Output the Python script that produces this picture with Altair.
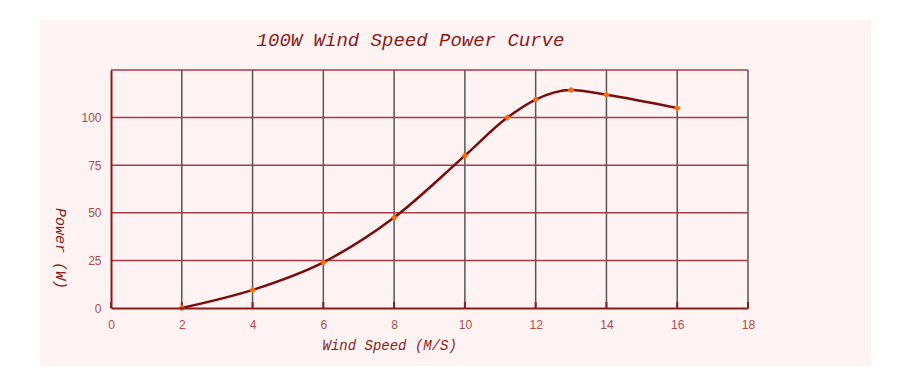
import altair as alt
import pandas as pd

# Data
wind_speed = [2, 4, 6, 8, 10, 11.2, 12, 13, 14, 16]
power = [0, 9.5, 24, 47.5, 80, 100, 109.5, 114.5, 112, 105]

x_grid_values = [2, 4, 6, 8, 10, 12, 14, 16, 18]
x_tick_values = [0, 2, 4, 6, 8, 10, 12, 14, 16, 18]
y_grid_values = [25, 50, 75, 100, 125]
y_tick_values = [0, 25, 50, 75, 100, 125]

title_text = "100W Wind Speed Power Curve"
x_title = "Wind Speed  (M/S)"
y_title = "Power (W)"

DARK_RED = "#8b1a1a"
LABEL_RED = "#b04a4a"
PANEL = "#fdf3f3"

df = pd.DataFrame({"speed": wind_speed, "power": power})
xg = pd.DataFrame({"v": x_grid_values})
yg = pd.DataFrame({"v": y_grid_values})
xt = pd.DataFrame({"v": x_tick_values})

xscale = alt.Scale(domain=[0, 18], nice=False)
yscale = alt.Scale(domain=[0, 125], nice=False)

x_axis = alt.Axis(
    values=x_tick_values, grid=False, ticks=False, domainColor=DARK_RED,
    domainWidth=2, labelColor=LABEL_RED, labelFont="Liberation Sans",
    labelFontSize=12, labelPadding=11, labelFlush=False, title=x_title,
    titleFont="Liberation Mono",
    titleFontStyle="italic", titleFontWeight="normal", titleFontSize=14,
    titleColor=DARK_RED, titleX=211, titleY=37, titleAlign="left",
    titleBaseline="middle", zindex=1,
)
y_axis = alt.Axis(
    values=y_tick_values, grid=False, ticks=False, domainColor=DARK_RED,
    domainWidth=2, labelColor=LABEL_RED, labelFont="Liberation Sans",
    labelFontSize=12, labelPadding=10, labelFlush=False,
    labelExpr="datum.value == 125 ? '' : datum.label",
    title=y_title, titleFont="Liberation Mono", titleFontStyle="italic",
    titleFontWeight="normal", titleFontSize=15, titleColor=DARK_RED,
    titleAngle=90, titleX=-51, titleY=178, titleAlign="center",
    titleBaseline="middle", zindex=1,
)

panel = alt.Chart(pd.DataFrame({"a": [0]})).mark_rect(color=PANEL).encode(
    x=alt.value(-71), x2=alt.value(760), y=alt.value(-50), y2=alt.value(296)
)

vgrid = alt.Chart(xg).mark_rule(color="#555555", strokeWidth=1.5).encode(
    x=alt.X("v:Q", scale=xscale, axis=x_axis)
)
hgrid = alt.Chart(yg).mark_rule(color="#a83a4a", strokeWidth=1.5).encode(
    y=alt.Y("v:Q", scale=yscale, axis=y_axis)
)
xticks = alt.Chart(xt).mark_rule(color=DARK_RED, strokeWidth=2).encode(
    x=alt.X("v:Q", scale=xscale), y=alt.value(232), y2=alt.value(238)
)

line = alt.Chart(df).mark_line(
    color="#7a0c0c", strokeWidth=2.5, interpolate="monotone"
).encode(
    x=alt.X("speed:Q", scale=xscale, axis=x_axis),
    y=alt.Y("power:Q", scale=yscale, axis=y_axis),
)
points = alt.Chart(df).mark_point(
    filled=True, color="#ff6a00", size=45, opacity=1, shape="diamond"
).encode(
    x=alt.X("speed:Q", scale=xscale),
    y=alt.Y("power:Q", scale=yscale),
)

chart = alt.layer(panel, vgrid, hgrid, xticks, line, points).properties(
    width=637, height=238,
    title=alt.TitleParams(
        text=title_text, font="Liberation Mono", fontStyle="italic",
        fontWeight="normal", fontSize=19, color=DARK_RED, anchor="middle",
        frame="group", dx=-19, dy=52, offset=22,
    ),
    autosize=alt.AutoSizeParams(type="none"),
    padding={"left": 103, "top": 62, "right": 140, "bottom": 60},
    background="white",
).configure_view(stroke=None)

chart.save("out.html", embed_options={"renderer": "svg", "actions": False})
